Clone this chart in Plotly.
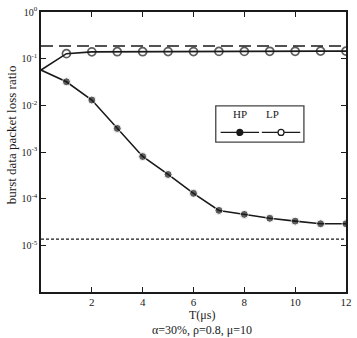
import plotly.graph_objects as go

T = [0, 1, 2, 3, 4, 5, 6, 7, 8, 9, 10, 11, 12]
HP = [0.057, 0.032, 0.013, 0.0032, 0.0008, 0.00033, 0.00013, 5.6e-5, 4.6e-5, 3.8e-5, 3.3e-5, 2.9e-5, 2.9e-5]
LP = [0.057, 0.128, 0.14, 0.141, 0.141, 0.142, 0.142, 0.143, 0.143, 0.144, 0.144, 0.145, 0.145]
bound_upper = 0.187
bound_lower = 1.36e-5
x_ticks = [2, 4, 6, 8, 10, 12]
y_tickvals = [1e-5, 1e-4, 1e-3, 1e-2, 1e-1, 1]
y_ticktext = ["10<sup>-5</sup>", "10<sup>-4</sup>", "10<sup>-3</sup>", "10<sup>-2</sup>", "10<sup>-1</sup>", "10<sup>0</sup>"]

INK = "#1a1a1a"
FONT = "Liberation Serif"
msize = [0] + [8] * (len(T) - 1)

fig = go.Figure()
fig.add_trace(go.Scatter(x=[T[0], T[-1]], y=[bound_upper, bound_upper], mode="lines",
                         line=dict(color=INK, width=1.5, dash="12px,6px"), showlegend=False))
fig.add_trace(go.Scatter(x=[T[0], T[-1]], y=[bound_lower, bound_lower], mode="lines",
                         line=dict(color=INK, width=1.3, dash="3px,2px"), showlegend=False))
fig.add_trace(go.Scatter(x=T, y=LP, mode="lines+markers", name="LP",
                         line=dict(color=INK, width=1.6),
                         marker=dict(symbol="circle-open", size=msize, color=INK, line=dict(width=1.7)),
                         showlegend=False))
fig.add_trace(go.Scatter(x=T, y=HP, mode="lines+markers", name="HP",
                         line=dict(color=INK, width=1.6),
                         marker=dict(symbol="circle", size=msize, color=INK),
                         showlegend=False))

# legend box (labels above line samples)
lx0, lx1, ly0, ly1 = 0.573, 0.862, 0.535, 0.665
fig.add_shape(type="rect", xref="paper", yref="paper", x0=lx0, x1=lx1, y0=ly0, y1=ly1,
              line=dict(color="#444", width=1.3), fillcolor="white")
for cx, name, filled in [(0.652, "HP", True), (0.787, "LP", False)]:
    fig.add_annotation(xref="paper", yref="paper", x=cx, y=0.635, text=name, showarrow=False,
                       font=dict(family=FONT, size=11, color=INK))
    fig.add_shape(type="line", xref="paper", yref="paper", x0=cx - 0.063, x1=cx + 0.063,
                  y0=0.57, y1=0.57, line=dict(color=INK, width=1.3))
    fig.add_shape(type="circle", xref="paper", yref="paper", xsizemode="pixel", ysizemode="pixel",
                  xanchor=cx, yanchor=0.57, x0=-3, x1=3, y0=-3, y1=3,
                  line=dict(color=INK, width=1.2), fillcolor=INK if filled else "white")

fig.update_layout(
    width=357, height=338,
    margin=dict(l=41, r=5, t=11, b=46),
    paper_bgcolor="white", plot_bgcolor="white",
    font=dict(family=FONT, size=10, color=INK),
    xaxis=dict(range=[0, 12], tickvals=x_ticks, ticks="inside", ticklen=5, tickcolor=INK,
               showline=True, linecolor=INK, linewidth=1.5, mirror="ticks", showgrid=False,
               zeroline=False, ticklabelstandoff=-1,
               tickfont=dict(family=FONT, size=11, color=INK)),
    yaxis=dict(type="log", range=[-6, 0], tickvals=y_tickvals, ticktext=y_ticktext,
               ticks="inside", ticklen=5, tickcolor=INK, showline=True, linecolor=INK,
               linewidth=1.5, mirror="ticks", showgrid=False, zeroline=False,
               tickfont=dict(family=FONT, size=10, color=INK)),
)
fig.add_annotation(xref="paper", yref="paper", x=0, xshift=-30, xanchor="center", y=0.56,
                   yanchor="middle", textangle=-90,
                   text="burst data packet loss ratio", showarrow=False,
                   font=dict(family=FONT, size=13, color=INK))
fig.add_annotation(xref="paper", yref="paper", x=0.5, xshift=8, xanchor="center", y=0,
                   yanchor="middle", yshift=-23, text="T(μs)",
                   showarrow=False, font=dict(family=FONT, size=12, color=INK))
fig.add_annotation(xref="paper", yref="paper", x=0.5, xshift=8, xanchor="center", y=0,
                   yanchor="middle", yshift=-38,
                   text="α=30%, ρ=0.8, μ=10", showarrow=False,
                   font=dict(family=FONT, size=12, color=INK))

fig.write_html("out.html")
